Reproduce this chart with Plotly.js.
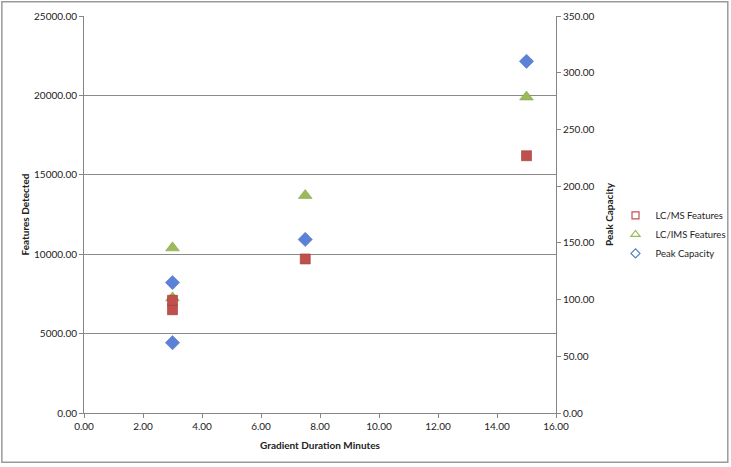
<!DOCTYPE html>
<html>
<head>
<meta charset="utf-8">
<script src="https://cdn.plot.ly/plotly-3.0.1.min.js"></script>
<style>
  html, body { margin: 0; padding: 0; background: #fff; }
  #chart { width: 731px; height: 467px; }
</style>
</head>
<body>
<div id="chart"></div>
<script>
// gradient duration (minutes) for each run
var lcmsX = [3, 3, 7.5, 15];
var lcmsFeatures = [6500, 7100, 9700, 16200];

var imsX = [3, 3, 7.5, 15];
var imsFeatures = [10400, 7250, 13700, 19900];

var peakX = [3, 3, 7.5, 15];
var peakCapacity = [62, 115, 153, 310];

var seriesNames = ['LC/MS Features', 'LC/IMS Features', 'Peak Capacity'];

var font = 'Lato, "Open Sans", sans-serif';

var traces = [
  {
    x: imsX, y: imsFeatures, mode: 'markers', type: 'scatter',
    name: seriesNames[1], showlegend: false, cliponaxis: false,
    marker: { symbol: 'triangle-up', size: 12, color: '#9bbb59', line: { color: '#7f9c45', width: 0.5 } }
  },
  {
    x: lcmsX, y: lcmsFeatures, mode: 'markers', type: 'scatter',
    name: seriesNames[0], showlegend: false, cliponaxis: false,
    marker: { symbol: 'square', size: 10, color: '#c0504d', line: { color: '#9c3a37', width: 0.6 } }
  },
  {
    x: peakX, y: peakCapacity, yaxis: 'y2', mode: 'markers', type: 'scatter',
    name: seriesNames[2], showlegend: false, cliponaxis: false,
    marker: { symbol: 'diamond', size: 11, color: '#5b82d6', line: { color: '#4a6fbf', width: 0.5 } }
  },
  // legend entries (hollow symbols as in the original)
  {
    x: [null], y: [null], mode: 'markers', type: 'scatter', name: seriesNames[0], legendrank: 1,
    marker: { symbol: 'square-open', size: 7, color: '#c0504d', line: { width: 1.2 } }
  },
  {
    x: [null], y: [null], mode: 'markers', type: 'scatter', name: seriesNames[1], legendrank: 2,
    marker: { symbol: 'triangle-up-open', size: 8, color: '#9bbb59', line: { width: 1.2 } }
  },
  {
    x: [null], y: [null], mode: 'markers', type: 'scatter', name: seriesNames[2], legendrank: 3,
    marker: { symbol: 'diamond-open', size: 7, color: '#4f81bd', line: { width: 1.2 } }
  }
];

var layout = {
  width: 731,
  height: 467,
  margin: { l: 84, r: 175, t: 16, b: 54, autoexpand: false },
  paper_bgcolor: '#fff',
  plot_bgcolor: '#fff',
  font: { family: font, size: 10, color: '#222' },
  showlegend: true,
  legend: {
    xref: 'container', yref: 'container',
    x: 0.842, y: 0.498, xanchor: 'left', yanchor: 'middle',
    bgcolor: 'rgba(0,0,0,0)',
    font: { family: font, size: 9.5, color: '#222' },
    itemwidth: 30, itemsizing: 'trace', tracegroupgap: 8
  },
  xaxis: {
    range: [0, 16], dtick: 2, tickformat: '.2f', automargin: false,
    showgrid: false, zeroline: false,
    showline: true, linecolor: '#868686', linewidth: 1,
    ticks: 'outside', ticklen: 4, tickcolor: '#868686',
    title: { text: '<b>Gradient Duration Minutes</b>', font: { family: font, size: 10, color: '#222' }, standoff: 10 }
  },
  yaxis: {
    range: [0, 25000], dtick: 5000, tickformat: '.2f', automargin: false,
    showgrid: true, gridcolor: '#8a8a8a', gridwidth: 1,
    zeroline: false,
    showline: true, linecolor: '#868686', linewidth: 1,
    ticks: 'outside', ticklen: 4, tickcolor: '#868686',
    title: { text: '<b>Features Detected</b>', font: { family: font, size: 10, color: '#222' }, standoff: 2 }
  },
  yaxis2: {
    range: [0, 350], dtick: 50, tickformat: '.2f', automargin: false,
    overlaying: 'y', side: 'right',
    showgrid: false, zeroline: false,
    showline: true, linecolor: '#868686', linewidth: 1,
    ticks: 'outside', ticklen: 4, tickcolor: '#868686',
    title: { text: '<b>Peak Capacity</b>', font: { family: font, size: 10, color: '#222' }, standoff: 12 }
  },
  shapes: [
    {
      type: 'rect', xref: 'paper', yref: 'paper',
      x0: -0.174, x1: 1.364, y0: -0.124, y1: 1.036,
      line: { color: '#9a9a9a', width: 1.5 }, fillcolor: 'rgba(0,0,0,0)', layer: 'below'
    }
  ]
};

Plotly.newPlot('chart', traces, layout, { displayModeBar: false, staticPlot: true });
</script>
</body>
</html>
